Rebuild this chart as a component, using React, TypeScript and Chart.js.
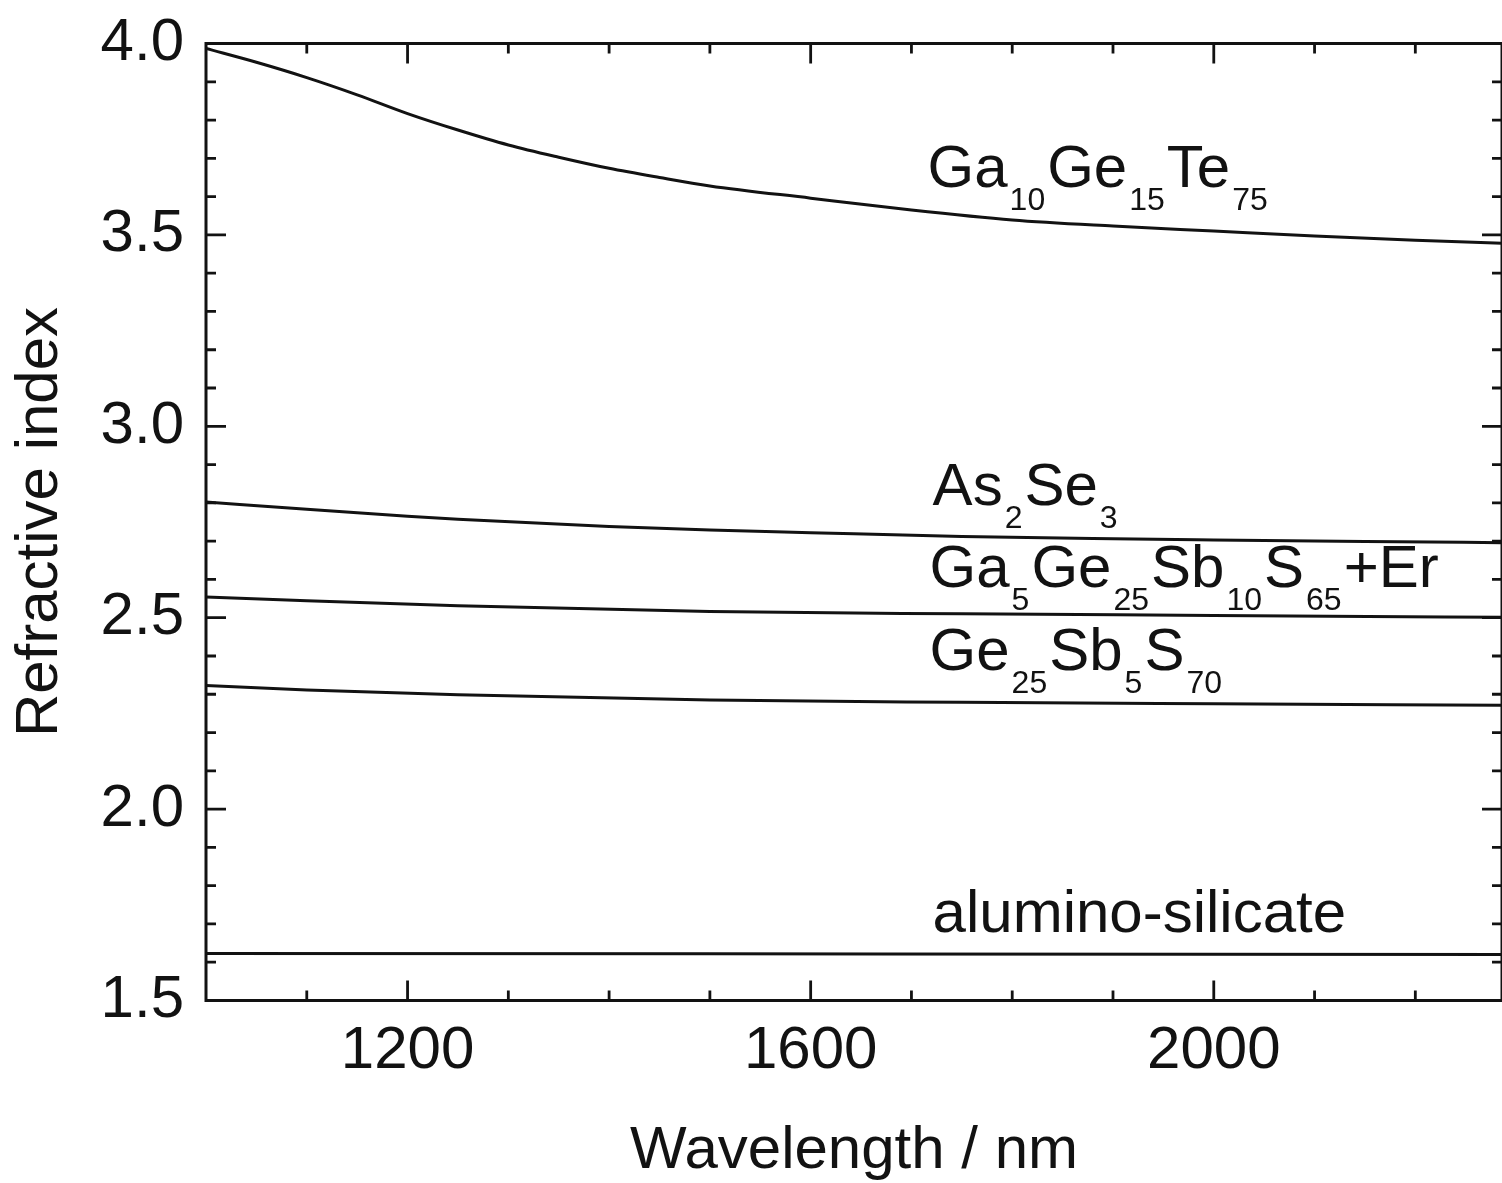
import React, { useEffect, useRef } from "react";
import { Chart, registerables } from "chart.js";

Chart.register(...registerables);

// ---- data ----
const teWavelength = [1000, 1050, 1100, 1150, 1200, 1250, 1300, 1350, 1400, 1450, 1500, 1600, 1700, 1800, 1900, 2000, 2100, 2200, 2286];
const teIndex = [3.987, 3.951, 3.911, 3.866, 3.817, 3.774, 3.735, 3.703, 3.674, 3.650, 3.628, 3.596, 3.565, 3.539, 3.523, 3.510, 3.497, 3.486, 3.478];

const asWavelength = [1000, 1100, 1200, 1250, 1400, 1500, 1600, 1750, 1900, 2000, 2150, 2286];
const asIndex = [2.802, 2.783, 2.765, 2.757, 2.738, 2.729, 2.722, 2.712, 2.706, 2.703, 2.699, 2.696];

const erWavelength = [1000, 1100, 1250, 1500, 1750, 2000, 2286];
const erIndex = [2.554, 2.544, 2.531, 2.516, 2.510, 2.506, 2.501];

const gssWavelength = [1000, 1100, 1250, 1500, 1750, 2000, 2286];
const gssIndex = [2.323, 2.311, 2.299, 2.285, 2.279, 2.275, 2.271];

const alWavelength = [1000, 1500, 2286];
const alIndex = [1.623, 1.622, 1.620];

const seriesLabels = ["Ga_{10}Ge_{15}Te_{75}", "As_{2}Se_{3}", "Ga_{5}Ge_{25}Sb_{10}S_{65}+Er", "Ge_{25}Sb_{5}S_{70}", "alumino-silicate"];
const labelWavelength = [1716, 1721, 1718, 1718, 1721];
const labelIndex = [3.625, 2.794, 2.581, 2.363, 1.680];

const xMajorTicks = [1200, 1600, 2000];
const xMinorTicks = [1100, 1300, 1400, 1500, 1700, 1800, 1900, 2100, 2200];
const yMajorTicks = [1.5, 2.0, 2.5, 3.0, 3.5, 4.0];
const yMinorTicks = [1.6, 1.7, 1.8, 1.9, 2.1, 2.2, 2.3, 2.4, 2.6, 2.7, 2.8, 2.9, 3.1, 3.2, 3.3, 3.4, 3.6, 3.7, 3.8, 3.9];

const xRange = [1000, 2286];
const yRange = [1.5, 4.0];

const INK = "#121212";
const FONT = "'Liberation Sans', Arial, Helvetica, sans-serif";

const toPoints = (xs: number[], ys: number[]) => xs.map((x, i) => ({ x, y: ys[i] }));

const framePlugin = {
  id: "frame",
  afterDatasetsDraw(chart: any) {
    const { ctx, chartArea: a, scales } = chart;
    const x = scales.x;
    const y = scales.y;
    ctx.save();
    ctx.strokeStyle = INK;
    ctx.lineWidth = 2.8;
    ctx.lineCap = "butt";
    ctx.beginPath();
    const vt = (v: number, len: number) => {
      const px = x.getPixelForValue(v);
      ctx.moveTo(px, a.bottom);
      ctx.lineTo(px, a.bottom - len);
      ctx.moveTo(px, a.top);
      ctx.lineTo(px, a.top + len);
    };
    const ht = (v: number, len: number) => {
      const py = y.getPixelForValue(v);
      ctx.moveTo(a.left, py);
      ctx.lineTo(a.left + len, py);
      ctx.moveTo(a.right, py);
      ctx.lineTo(a.right - len, py);
    };
    xMajorTicks.forEach((v) => vt(v, 20));
    xMinorTicks.forEach((v) => vt(v, 10));
    yMajorTicks.forEach((v) => ht(v, 20));
    yMinorTicks.forEach((v) => ht(v, 10));
    ctx.stroke();
    ctx.lineWidth = 3;
    ctx.strokeRect(a.left, a.top, a.right - a.left, a.bottom - a.top);
    ctx.restore();
  },
};

const labelPlugin = {
  id: "seriesLabels",
  afterDraw(chart: any) {
    const { ctx, scales } = chart;
    const x = scales.x;
    const y = scales.y;
    ctx.save();
    ctx.fillStyle = INK;
    ctx.textBaseline = "alphabetic";
    ctx.textAlign = "left";
    seriesLabels.forEach((label, i) => {
      let px = x.getPixelForValue(labelWavelength[i]);
      const py = y.getPixelForValue(labelIndex[i]);
      const parts = label.split(/(_\{[^}]*\})/).filter((s) => s.length > 0);
      parts.forEach((p) => {
        if (p.startsWith("_{")) {
          const t = p.slice(2, -1);
          ctx.font = `32px ${FONT}`;
          px += 2;
          ctx.fillText(t, px, py + 23);
          px += ctx.measureText(t).width + 2;
        } else {
          ctx.font = `60px ${FONT}`;
          ctx.fillText(p, px, py);
          px += ctx.measureText(p).width;
        }
      });
    });
    ctx.restore();
  },
};

export default function App() {
  const canvasRef = useRef<HTMLCanvasElement | null>(null);

  useEffect(() => {
    if (!canvasRef.current) return;
    const ds = (xs: number[], ys: number[]) => ({
      data: toPoints(xs, ys),
      borderColor: INK,
      borderWidth: 3,
      pointRadius: 0,
      fill: false,
      cubicInterpolationMode: "monotone" as const,
    });
    const chart = new Chart(canvasRef.current, {
      type: "line",
      data: {
        datasets: [
          ds(teWavelength, teIndex),
          ds(asWavelength, asIndex),
          ds(erWavelength, erIndex),
          ds(gssWavelength, gssIndex),
          ds(alWavelength, alIndex),
        ],
      },
      options: {
        responsive: false,
        animation: false,
        layout: { padding: { left: 0, right: 0, top: 43.5, bottom: 0 } },
        plugins: { legend: { display: false }, tooltip: { enabled: false } },
        scales: {
          x: {
            type: "linear",
            min: xRange[0],
            max: xRange[1],
            afterBuildTicks: (s: any) => {
              s.ticks = xMajorTicks.map((v) => ({ value: v }));
            },
            afterFit: (s: any) => {
              s.height = 182.5;
              s.paddingLeft = 0;
              s.paddingRight = 0;
              s.paddingTop = 0;
              s.paddingBottom = 0;
            },
            grid: { display: false, drawTicks: false },
            border: { display: false },
            ticks: {
              color: INK,
              font: { family: FONT, size: 60, lineHeight: 1 },
              padding: 21,
              maxRotation: 0,
              autoSkip: false,
              callback: (v: any) => String(v),
            },
            title: {
              display: true,
              text: "Wavelength / nm",
              color: INK,
              font: { family: FONT, size: 60, lineHeight: 1 },
              padding: { top: 0, bottom: 2 },
            },
          },
          y: {
            type: "linear",
            min: yRange[0],
            max: yRange[1],
            afterBuildTicks: (s: any) => {
              s.ticks = yMajorTicks.map((v) => ({ value: v }));
            },
            afterFit: (s: any) => {
              s.width = 206;
              s.paddingLeft = 0;
              s.paddingRight = 0;
              s.paddingTop = 0;
              s.paddingBottom = 0;
            },
            grid: { display: false, drawTicks: false },
            border: { display: false },
            ticks: {
              color: INK,
              font: { family: FONT, size: 60, lineHeight: 1 },
              padding: 22,
              autoSkip: false,
              callback: (v: any) => Number(v).toFixed(1),
            },
            title: {
              display: true,
              text: "Refractive index",
              color: INK,
              font: { family: FONT, size: 60, lineHeight: 1 },
              padding: { top: 10, bottom: 0 },
            },
          },
        },
      },
      plugins: [framePlugin, labelPlugin],
    });
    return () => chart.destroy();
  }, []);

  return (
    <div style={{ position: "absolute", left: 0, top: 0, width: 1502, height: 1183, background: "#fff" }}>
      <canvas ref={canvasRef} width={1502} height={1183} />
    </div>
  );
}
